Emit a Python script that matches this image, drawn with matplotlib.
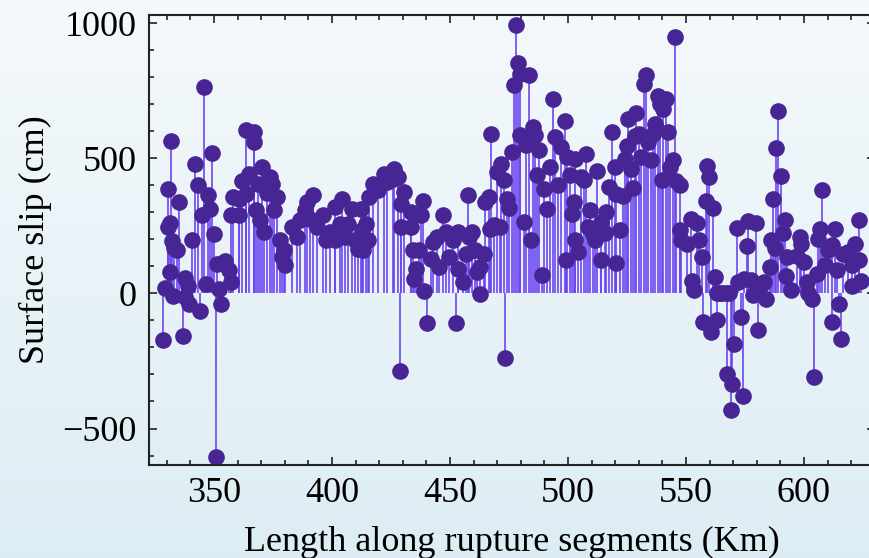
import numpy as np
import matplotlib
matplotlib.use("Agg")
import matplotlib.pyplot as plt
from matplotlib.ticker import MultipleLocator

# Surface slip measured along the rupture trace
x_km = [
    328.4, 329.1, 330.5, 331.2, 330.7, 331.6, 331.2, 332.4, 333.0, 334.5,
    332.6, 335.2, 336.7, 337.7, 339.0, 337.6, 339.5, 340.8, 342.1, 343.1,
    343.9, 344.8, 345.6, 346.6, 347.5, 348.3, 349.2, 349.9, 351.1, 352.1,
    353.0, 350.7, 354.7, 356.4, 357.1, 357.1, 358.2, 360.6, 362.0, 363.4,
    367.0, 367.0, 364.8, 363.4, 360.6, 367.7,
    370.2, 373.7, 374.4, 368.8, 372.3, 376.6, 375.6, 369.5, 371.3, 377.9,
    379.8, 380.1, 378.7, 382.9, 385.0, 386.4, 388.6, 389.3, 392.1, 390.7,
    393.5, 396.3, 397.3, 399.2, 401.3, 404.4, 403.4, 406.9, 405.5, 408.3,
    411.2, 412.3, 412.6, 409.7, 401.3,
    414.4, 415.1, 413.0, 415.8, 417.2, 419.3, 422.2, 423.3, 426.4, 428.1,
    425.7, 430.7, 429.2, 433.5, 429.2, 433.5, 429.0, 438.4, 437.7, 434.2,
    437.0, 435.6, 434.9, 439.1, 440.1, 442.7, 442.0, 444.5, 446.9, 445.5,
    448.3, 449.7, 451.1, 453.3, 452.5, 453.3, 455.4, 456.8, 457.5, 458.2,
    459.3, 460.7, 462.9, 461.4, 464.3, 462.8, 465.0, 466.4, 466.8, 467.4,
    468.8, 471.3, 469.9, 471.7, 472.7, 473.4, 474.1, 475.1, 476.3, 477.3,
    478.1, 478.8, 479.8, 483.3, 479.5, 481.2, 482.2, 485.2, 485.9, 484.3,
    487.9, 486.9, 489.7, 489.0, 491.1, 492.5, 493.6, 494.6, 495.6, 497.2,
    498.7, 499.6, 501.0, 499.3, 501.7, 502.4, 503.1,
    502.8, 504.2, 505.6, 507.0, 507.5, 509.2, 508.5, 510.6, 511.3, 512.3,
    514.1, 514.1, 515.5, 516.2, 517.4, 518.8, 519.8, 520.5, 520.5, 522.2,
    523.3, 524.0, 525.0, 525.4, 526.8, 527.5, 528.9, 528.2, 530.3, 531.0,
    532.2, 532.9, 533.9, 535.3, 536.7, 536.0, 538.1, 539.1, 540.2, 541.6,
    542.4, 539.9, 543.1, 544.5, 545.2, 545.9, 547.3, 547.3, 548.0,
    550.6, 552.0, 554.8, 555.5, 556.6, 552.7, 553.4, 559.0, 559.7, 558.3,
    561.4, 557.2, 560.7, 563.3, 562.3, 563.3, 564.5, 565.4, 566.8, 568.2,
    567.5, 569.6, 568.9, 570.3, 571.7, 572.2, 573.2, 574.2, 574.6, 576.0,
    576.4, 577.4, 578.4, 579.8, 580.5, 581.6, 583.0, 584.0, 585.4, 585.9,
    586.9, 587.7, 588.3, 589.1, 590.1, 591.1, 591.9, 592.9, 592.5,
    594.5, 598.3, 598.7, 596.9, 600.1, 601.1, 601.8, 603.5, 604.4, 605.4,
    606.1, 606.8, 607.8, 608.9, 610.3, 612.0, 613.1, 612.0, 614.8, 615.7,
    613.8, 616.7, 618.8, 620.2, 621.6, 623.3, 620.5, 624.1, 623.4,
]
slip_cm = [
    -172, 21, 246, 260, 385, 563, 78, 194, 169, 159,
    -8, 337, -157, 58, 28, -14, -38, 196, 478, 400,
    -66, 290, 765, 36, 363, 313, 521, 218, 107, 17,
    -38, -604, 120, 85, 42, 289, 357, 289, 416, 604,
    597, 560, 443, 369, 350, 307,
    468, 431, 406, 406, 371, 357, 307, 270, 227, 196,
    162, 104, 134, 245, 208, 270, 310, 338, 365, 276,
    245, 289, 196, 227, 320, 349, 258, 258, 208, 313,
    165, 313, 233, 196, 196,
    258, 196, 159, 357, 406, 381, 443, 412, 462, 431,
    425, 375, 332, 301, 245, 245, -288, 342, 289, 159,
    159, 91, 54, 7, -109, 190, 128, 208, 289, 97,
    227, 134, 196, 227, -110, 91, 42, 147, 363, 208,
    227, 159, 97, 79, 147, -4, 338, 357, 239, 589,
    252, 246, 449, 478, 421, -238, 350, 316, 523, 770,
    994, 854, 813, 807, 585, 264, 548, 616, 585, 199,
    532, 439, 388, 69, 311, 468, 718, 579, 400, 542,
    637, 505, 439, 122, 295, 338, 196,
    499, 153, 431, 418, 517, 307, 246, 221, 196, 452,
    125, 264, 223, 301, 394, 596, 468, 113, 369, 233,
    359, 499, 544, 647, 462, 391, 669, 581, 591, 505,
    774, 807, 560, 492, 628, 591, 730, 702, 681, 721,
    597, 418, 468, 492, 947, 416, 400, 233, 196,
    184, 276, 262, 196, 134, 46, 14, 470, 431, 342,
    317, -106, -143, -98, 60, 0, 0, 0, 0, 0,
    -298, -335, -433, -187, 242, 42, -88, -378, 54, 174,
    268, 48, -7, 260, -135, 30, 42, -20, 97, 196,
    350, 169, 539, 674, 434, 223, 270, 134, 66,
    11, 208, 184, 137, 116, 42, 1, -20, -308, 73,
    202, 239, 381, 104, 159, 178, 237, -105, -38, -170,
    88, 147, 153, 104, 184, 122, 26, 46, 273,
]

x = np.array(x_km)
y = np.array(slip_cm)
order = np.argsort(x, kind="stable")
x, y = x[order], y[order]

plt.rcParams["font.family"] = ["Liberation Serif", "DejaVu Serif"]

fig = plt.figure(figsize=(8.69, 5.58), dpi=100)

# soft vertical gradient behind everything
bg = fig.add_axes([0, 0, 1, 1], zorder=-10)
grad = np.linspace(0, 1, 256)[:, None]
top = np.array([0.957, 0.976, 0.984])
bottom = np.array([0.867, 0.929, 0.957])
img = top[None, None, :] * (1 - grad[:, :, None]) + bottom[None, None, :] * grad[:, :, None]
bg.imshow(img, aspect="auto", extent=[0, 1, 0, 1])
bg.axis("off")

# right frame sits just past the image edge
ax = fig.add_axes([149 / 869, 93 / 558, 726 / 869, 450 / 558])
ax.set_facecolor("none")

ax.vlines(x, 0, y, color="#6a42f0", linewidth=1.3, alpha=0.9, zorder=1)
ax.plot(x, y, "o", color="#472594", markersize=12, markeredgewidth=0, zorder=2)

ax.set_xlim(322.46, 630.1)
ax.set_ylim(-635, 1030)

ax.xaxis.set_major_locator(MultipleLocator(50))
ax.xaxis.set_minor_locator(MultipleLocator(10))
ax.yaxis.set_major_locator(MultipleLocator(500))
ax.yaxis.set_minor_locator(MultipleLocator(100))
ax.tick_params(which="both", direction="in", top=True, right=True,
               color="#222222", width=1.2, labelsize=26, pad=9)
ax.tick_params(which="major", length=6)
ax.tick_params(which="minor", length=3.8)
for s in ax.spines.values():
    s.set_linewidth(1.5)
    s.set_color("#222222")

ax.set_xlabel("Length along rupture segments (Km)", fontsize=26, labelpad=11)
ax.set_ylabel("Surface slip (cm)", fontsize=26, labelpad=7)

fig.savefig("out.png", dpi=100)
